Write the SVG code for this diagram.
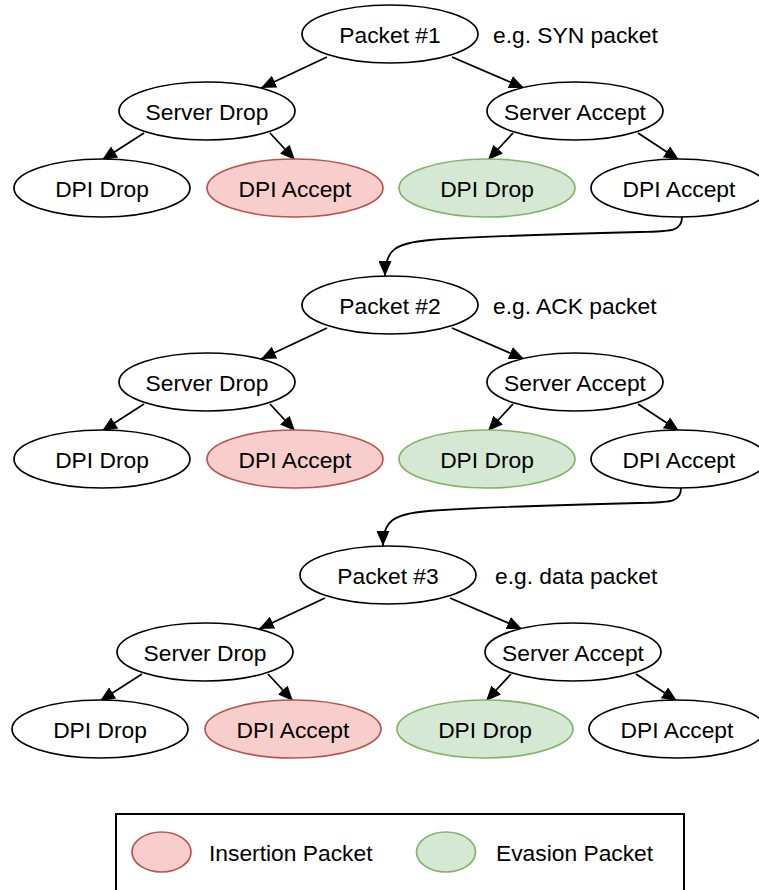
<svg xmlns="http://www.w3.org/2000/svg" width="759" height="890" viewBox="0 0 759 890">
<style>
.n{fill:#ffffff;stroke:#000000;stroke-width:1.7}
.r{fill:#f8cecc;stroke:#b85450;stroke-width:1.7}
.g{fill:#d5e8d4;stroke:#82b366;stroke-width:1.7}
text{font-family:"Liberation Sans",Arial,Helvetica,sans-serif;font-size:22.8px;fill:#000000}
.c{text-anchor:middle}
.e{fill:none;stroke:#000000;stroke-width:1.8;marker-end:url(#ah)}
</style>
<defs>
<marker id="ah" markerUnits="userSpaceOnUse" markerWidth="15" markerHeight="13" refX="15" refY="6.5" orient="auto">
<path d="M0,0 L15,6.5 L0,13 z" fill="#000000"/>
</marker>
</defs>
<rect x="0" y="0" width="759" height="890" fill="#ffffff"/>

<g id="connectors">
<path class="e" d="M327,57 L261,88"/>
<path class="e" d="M452,57 L524,88"/>
<path class="e" d="M144,133 L102,160"/>
<path class="e" d="M270,133 L295,160"/>
<path class="e" d="M513,133 L488,160"/>
<path class="e" d="M638,133 L679,160"/>
<path class="e" d="M682,217 C682,232 670,231 640,232 C560,234 480,236 430,240 C395,243 385,250 385,276"/>

<path class="e" d="M327,328 L261,359"/>
<path class="e" d="M452,328 L524,359"/>
<path class="e" d="M144,404 L102,431"/>
<path class="e" d="M270,404 L295,431"/>
<path class="e" d="M513,404 L488,431"/>
<path class="e" d="M638,404 L679,431"/>
<path class="e" d="M681,488 C681,503 669,502 639,503 C559,505 479,507 428,511 C393,514 383,521 383,546"/>

<path class="e" d="M325,598 L259,629"/>
<path class="e" d="M450,598 L522,629"/>
<path class="e" d="M142,674 L100,701"/>
<path class="e" d="M268,674 L293,701"/>
<path class="e" d="M511,674 L486,701"/>
<path class="e" d="M636,674 L677,701"/>
</g>

<g id="packet1"><ellipse class="n" cx="390" cy="34" rx="88" ry="29"/><text class="c" x="390" y="43">Packet #1</text></g>
<g id="note1"><text x="493" y="43">e.g. SYN packet</text></g>
<g id="t1-server-drop"><ellipse class="n" cx="207" cy="111" rx="88" ry="29"/><text class="c" x="207" y="120">Server Drop</text></g>
<g id="t1-server-accept"><ellipse class="n" cx="575" cy="111" rx="88" ry="29"/><text class="c" x="575" y="120">Server Accept</text></g>
<g id="t1-dpi-drop-a"><ellipse class="n" cx="102" cy="188" rx="88" ry="29"/><text class="c" x="102" y="197">DPI Drop</text></g>
<g id="t1-dpi-accept-a"><ellipse class="r" cx="295" cy="188" rx="88" ry="29"/><text class="c" x="295" y="197">DPI Accept</text></g>
<g id="t1-dpi-drop-b"><ellipse class="g" cx="487" cy="188" rx="88" ry="29"/><text class="c" x="487" y="197">DPI Drop</text></g>
<g id="t1-dpi-accept-b"><ellipse class="n" cx="679" cy="188" rx="88" ry="29"/><text class="c" x="679" y="197">DPI Accept</text></g>

<g id="packet2"><ellipse class="n" cx="390" cy="305" rx="88" ry="29"/><text class="c" x="390" y="314">Packet #2</text></g>
<g id="note2"><text x="493" y="314">e.g. ACK packet</text></g>
<g id="t2-server-drop"><ellipse class="n" cx="207" cy="382" rx="88" ry="29"/><text class="c" x="207" y="391">Server Drop</text></g>
<g id="t2-server-accept"><ellipse class="n" cx="575" cy="382" rx="88" ry="29"/><text class="c" x="575" y="391">Server Accept</text></g>
<g id="t2-dpi-drop-a"><ellipse class="n" cx="102" cy="459" rx="88" ry="29"/><text class="c" x="102" y="468">DPI Drop</text></g>
<g id="t2-dpi-accept-a"><ellipse class="r" cx="295" cy="459" rx="88" ry="29"/><text class="c" x="295" y="468">DPI Accept</text></g>
<g id="t2-dpi-drop-b"><ellipse class="g" cx="487" cy="459" rx="88" ry="29"/><text class="c" x="487" y="468">DPI Drop</text></g>
<g id="t2-dpi-accept-b"><ellipse class="n" cx="679" cy="459" rx="88" ry="29"/><text class="c" x="679" y="468">DPI Accept</text></g>

<g id="packet3"><ellipse class="n" cx="388" cy="575" rx="88" ry="29"/><text class="c" x="388" y="584">Packet #3</text></g>
<g id="note3"><text x="495" y="584">e.g. data packet</text></g>
<g id="t3-server-drop"><ellipse class="n" cx="205" cy="652" rx="88" ry="29"/><text class="c" x="205" y="661">Server Drop</text></g>
<g id="t3-server-accept"><ellipse class="n" cx="573" cy="652" rx="88" ry="29"/><text class="c" x="573" y="661">Server Accept</text></g>
<g id="t3-dpi-drop-a"><ellipse class="n" cx="100" cy="729" rx="88" ry="29"/><text class="c" x="100" y="738">DPI Drop</text></g>
<g id="t3-dpi-accept-a"><ellipse class="r" cx="293" cy="729" rx="88" ry="29"/><text class="c" x="293" y="738">DPI Accept</text></g>
<g id="t3-dpi-drop-b"><ellipse class="g" cx="485" cy="729" rx="88" ry="29"/><text class="c" x="485" y="738">DPI Drop</text></g>
<g id="t3-dpi-accept-b"><ellipse class="n" cx="677" cy="729" rx="88" ry="29"/><text class="c" x="677" y="738">DPI Accept</text></g>

<g id="legend">
<rect x="116" y="814" width="568" height="80" fill="#ffffff" stroke="#000000" stroke-width="2"/>
<ellipse class="r" cx="161.5" cy="852" rx="29.5" ry="20"/>
<text x="209" y="861">Insertion Packet</text>
<ellipse class="g" cx="446" cy="852" rx="29.5" ry="20"/>
<text x="496" y="861">Evasion Packet</text>
</g>
</svg>
